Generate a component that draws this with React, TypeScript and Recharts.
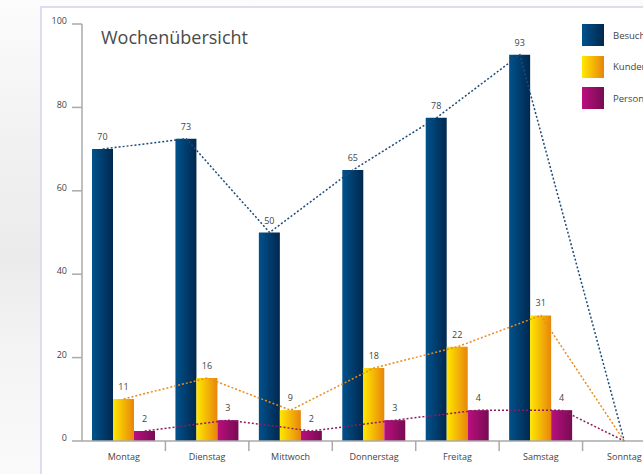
import React from 'react';
import { ComposedChart, Bar, Line, XAxis, YAxis, LabelList } from 'recharts';

const days = ['Montag', 'Dienstag', 'Mittwoch', 'Donnerstag', 'Freitag', 'Samstag', 'Sonntag'];
const besucher = [70, 72.5, 50, 65, 77.5, 92.6, 0];
const kunden = [10.1, 15.1, 7.4, 17.5, 22.6, 30.1, 0];
const personal = [2.4, 5, 2.4, 5, 7.4, 7.4, 0];
const besucherLabels = ['70', '73', '50', '65', '78', '93', ''];
const kundenLabels = ['11', '16', '9', '18', '22', '31', ''];
const personalLabels = ['2', '3', '2', '3', '4', '4', ''];
const yTicks = [0, 20, 40, 60, 80, 100];
const seriesNames = ['Besucher', 'Kunden', 'Personal'];

const FONT = '"Open Sans", "DejaVu Sans", sans-serif';
const BAR = 21;
const PLOT_W = 584;
const BAR_FRAC = BAR / (PLOT_W / days.length);

// line vertices sit on the centre of their own bar; the empty Sunday converges on the category centre
const hasBars = (i: number) => besucher[i] + kunden[i] + personal[i] > 0;
const data = days.map((d, i) => ({
  day: d,
  besucher: besucher[i],
  kunden: kunden[i],
  personal: personal[i],
  posB: i + 0.5 - (hasBars(i) ? BAR_FRAC : 0),
  posK: i + 0.5,
  posP: i + 0.5 + (hasBars(i) ? BAR_FRAC : 0),
}));

const legendGradients = [
  'linear-gradient(90deg, #00528c, #00284e)',
  'linear-gradient(90deg, #ffe800, #e8850c)',
  'linear-gradient(90deg, #bb0f7e, #760c53)',
];

const makeLabel = (labels: string[]) => (props: any) => {
  const { x, y, width, index } = props;
  const t = labels[index];
  if (!t) return null;
  return (
    <text x={Number(x) + Number(width) / 2} y={Number(y) - 9} textAnchor="middle" fontSize={9} fill="#444" fontFamily={FONT}>
      {t}
    </text>
  );
};

const XTick = (props: any) => {
  const { x, y, payload } = props;
  const off = payload && payload.offset ? payload.offset : 0;
  return (
    <g>
      <line x1={x + off} x2={x + off} y1={y} y2={y + 10} stroke="#aaa" strokeWidth={1.5} />
      <text x={x} y={y + 19} textAnchor="middle" fontSize={9} fill="#444" fontFamily={FONT}>
        {payload.value}
      </text>
    </g>
  );
};

const YTick = (props: any) => {
  const { x, y, payload } = props;
  return (
    <text x={x} y={y - 3} dy="0.35em" textAnchor="end" fontSize={9} fill="#444" fontFamily={FONT}>
      {payload.value}
    </text>
  );
};

const lineCommon = {
  strokeWidth: 1.5,
  strokeDasharray: '2 2',
  dot: false,
  activeDot: false,
  legendType: 'none' as const,
  isAnimationActive: false,
};

export default function App() {
  return (
    <div
      style={{
        position: 'fixed',
        left: 0,
        top: 0,
        width: 643,
        height: 474,
        overflow: 'hidden',
        background: 'linear-gradient(180deg, #fcfcfc 0%, #f1f1f1 30%, #ebebeb 55%, #f4f4f4 75%, #fafafa 100%)',
      }}
    >
      <div
        style={{
          position: 'absolute',
          left: 40,
          top: 6,
          width: 640,
          height: 480,
          background: '#fff',
          borderLeft: '2px solid #dedcf0',
          borderTop: '2px solid #dedcf0',
        }}
      />
      <div
        style={{
          position: 'absolute',
          left: 101,
          top: 25,
          fontFamily: FONT,
          fontSize: 18,
          lineHeight: '24px',
          color: '#4a4a4a',
          whiteSpace: 'nowrap',
        }}
      >
        Wochenübersicht
      </div>
      <div style={{ position: 'absolute', left: 0, top: 0 }}>
        <ComposedChart
          width={720}
          height={474}
          data={data}
          margin={{ top: 24, right: 54, left: 40, bottom: 0 }}
          barGap={0}
          barSize={BAR}
        >
          <defs>
            <linearGradient id="gBlue" x1="0" y1="0" x2="1" y2="0">
              <stop offset="0%" stopColor="#00528c" />
              <stop offset="100%" stopColor="#00284e" />
            </linearGradient>
            <linearGradient id="gYellow" x1="0" y1="0" x2="1" y2="0">
              <stop offset="0%" stopColor="#ffe800" />
              <stop offset="100%" stopColor="#e8850c" />
            </linearGradient>
            <linearGradient id="gMagenta" x1="0" y1="0" x2="1" y2="0">
              <stop offset="0%" stopColor="#bb0f7e" />
              <stop offset="100%" stopColor="#760c53" />
            </linearGradient>
          </defs>
          <XAxis
            dataKey="day"
            height={33}
            interval={0}
            axisLine={{ stroke: '#aaa', strokeWidth: 1.5 }}
            tickLine={false}
            tickSize={0}
            tickMargin={0}
            tick={<XTick />}
          />
          <XAxis xAxisId="lb" type="number" dataKey="posB" domain={[0, days.length]} hide />
          <XAxis xAxisId="lk" type="number" dataKey="posK" domain={[0, days.length]} hide />
          <XAxis xAxisId="lp" type="number" dataKey="posP" domain={[0, days.length]} hide />
          <YAxis
            width={42}
            domain={[0, 100]}
            ticks={yTicks}
            interval={0}
            axisLine={{ stroke: '#aaa', strokeWidth: 1.5 }}
            tickLine={{ stroke: '#aaa', strokeWidth: 1.5 }}
            tickSize={10}
            tickMargin={5}
            tick={<YTick />}
          />
          <Bar dataKey="besucher" name={seriesNames[0]} fill="url(#gBlue)" isAnimationActive={false}>
            <LabelList dataKey="besucher" content={makeLabel(besucherLabels)} />
          </Bar>
          <Bar dataKey="kunden" name={seriesNames[1]} fill="url(#gYellow)" isAnimationActive={false}>
            <LabelList dataKey="kunden" content={makeLabel(kundenLabels)} />
          </Bar>
          <Bar dataKey="personal" name={seriesNames[2]} fill="url(#gMagenta)" isAnimationActive={false}>
            <LabelList dataKey="personal" content={makeLabel(personalLabels)} />
          </Bar>
          <Line xAxisId="lb" dataKey="besucher" stroke="#1d4a78" {...lineCommon} />
          <Line xAxisId="lk" dataKey="kunden" stroke="#ec8a1e" {...lineCommon} />
          <Line xAxisId="lp" dataKey="personal" stroke="#8e1a63" {...lineCommon} />
        </ComposedChart>
      </div>
      <div style={{ position: 'absolute', left: 582, top: 24, fontFamily: FONT }}>
        {seriesNames.map((n, i) => (
          <div key={n} style={{ display: 'flex', alignItems: 'center', height: 22, marginBottom: 9.5 }}>
            <div style={{ width: 22, height: 22, background: legendGradients[i] }} />
            <span style={{ marginLeft: 9, fontSize: 9.5, color: '#444', whiteSpace: 'nowrap' }}>{n}</span>
          </div>
        ))}
      </div>
    </div>
  );
}
